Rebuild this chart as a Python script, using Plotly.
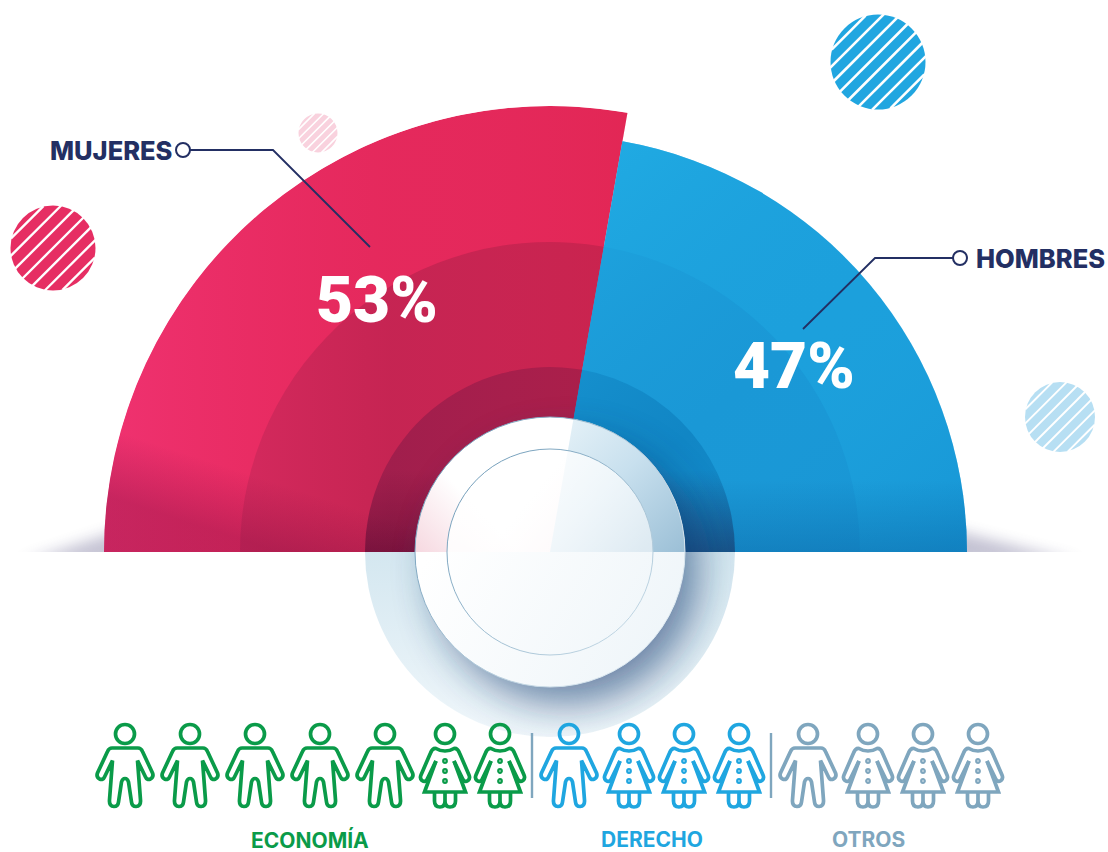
import base64, math
import plotly.graph_objects as go

W, H = 1108, 852
CX, CY = 550, 552

# ---- data ----
sexos = ["MUJERES", "HOMBRES"]
porcentajes = [53, 47]
barrido_grados = [100, 80]          # sweep as drawn in the half circle
radio_exterior = [446, 417]
radio_medio = [310, 310]
radio_interior = [185, 185]
carreras = ["ECONOMÍA", "DERECHO", "OTROS"]
hombres_por_carrera = [5, 1, 1]
mujeres_por_carrera = [2, 3, 3]

# ---- styles ----
ROJO = ["#E3285A", "#C0234F", "#961C48"]
AZUL = ["#1CA0DC", "#1A98D6", "#1186C5"]
COL_CARRERA = ["#0A9B49", "#1FA6E0", "#7FA6BE"]
NAVY = "#232F63"
FONT = "Inter"
SW = 3.7

theta_limite = barrido_grados[1]
theta_centros = [theta_limite + barrido_grados[0] / 2, theta_limite / 2]

fig = go.Figure()
for radios, k in ((radio_exterior, 0), (radio_medio, 1), (radio_interior, 2)):
    for i, nombre in enumerate(sexos):
        fig.add_trace(go.Barpolar(
            r=[radios[i]], theta=[theta_centros[i]], width=[barrido_grados[i]],
            name=nombre, marker=dict(color=(ROJO if i == 0 else AZUL)[k], line=dict(width=0)),
            hoverinfo="skip", showlegend=False, subplot="polar"))

# empty scatter so the pixel-based cartesian axes exist for shapes and text
fig.add_trace(go.Scatter(x=[], y=[], xaxis="x", yaxis="y", showlegend=False))


def pt(r, a):
    t = math.radians(a)
    return CX + r * math.cos(t), CY - r * math.sin(t)


def wedge(r, a0, a1):
    x0, y0 = pt(r, a0)
    x1, y1 = pt(r, a1)
    return f"M{CX} {CY}L{x0:.2f} {y0:.2f}A{r} {r} 0 0 0 {x1:.2f} {y1:.2f}Z"


R0, B0 = radio_exterior
RM, RI = radio_medio[0], radio_interior[0]
RD, RC = 135, 103
sx, sy = pt(RD, theta_limite)

svg_below = f'''<svg xmlns="http://www.w3.org/2000/svg" width="{W}" height="{H}" viewBox="0 0 {W} {H}">
<defs><filter id="b" x="-50%" y="-100%" width="200%" height="300%"><feGaussianBlur stdDeviation="10 7"/></filter>
<clipPath id="c"><rect x="0" y="0" width="{W}" height="{CY}"/></clipPath></defs>
<g clip-path="url(#c)"><g filter="url(#b)" fill="#4A4478" opacity=".32">
<path d="M{CX-R0+30} 526L{CX-R0+30} 562L24 562Z"/>
<path d="M{CX+B0-30} 526L{CX+B0-30} 562L1078 562Z"/></g></g>
</svg>'''

svg_above = f'''<svg xmlns="http://www.w3.org/2000/svg" width="{W}" height="{H}" viewBox="0 0 {W} {H}">
<defs>
<linearGradient id="rg" gradientUnits="userSpaceOnUse" x1="104" y1="0" x2="627" y2="0">
 <stop offset="0" stop-color="#F7387E" stop-opacity=".62"/><stop offset=".55" stop-color="#F02F6C" stop-opacity=".12"/><stop offset="1" stop-color="#E0244A" stop-opacity=".3"/></linearGradient>
<linearGradient id="bg" gradientUnits="userSpaceOnUse" x1="620" y1="150" x2="960" y2="540">
 <stop offset="0" stop-color="#22B0E6" stop-opacity=".6"/><stop offset=".5" stop-color="#1EA0DC" stop-opacity="0"/><stop offset="1" stop-color="#1088CC" stop-opacity=".4"/></linearGradient>
<linearGradient id="horR" gradientUnits="userSpaceOnUse" x1="300" y1="490" x2="280" y2="{CY}">
 <stop offset="0" stop-color="#6A0838" stop-opacity="0"/><stop offset="1" stop-color="#6A0838" stop-opacity=".3"/></linearGradient>
<linearGradient id="horB" gradientUnits="userSpaceOnUse" x1="0" y1="480" x2="0" y2="{CY}">
 <stop offset="0" stop-color="#003C7A" stop-opacity="0"/><stop offset="1" stop-color="#003C7A" stop-opacity=".24"/></linearGradient>
<linearGradient id="ind" gradientUnits="userSpaceOnUse" x1="0" y1="470" x2="0" y2="{CY}">
 <stop offset="0" stop-color="#300020" stop-opacity="0"/><stop offset="1" stop-color="#300020" stop-opacity=".3"/></linearGradient>
<linearGradient id="pale" gradientUnits="userSpaceOnUse" x1="0" y1="{CY}" x2="0" y2="{CY+RI}">
 <stop offset="0" stop-color="#D4E7F0"/><stop offset="1" stop-color="#F0F7FB"/></linearGradient>
<linearGradient id="dr" gradientUnits="userSpaceOnUse" x1="440" y1="430" x2="600" y2="560">
 <stop offset="0" stop-color="#FFFFFF"/><stop offset=".55" stop-color="#FFFFFF"/><stop offset="1" stop-color="#F5DDE4"/></linearGradient>
<linearGradient id="drc" gradientUnits="userSpaceOnUse" x1="415" y1="552" x2="470" y2="500">
 <stop offset="0" stop-color="#F6D8E0"/><stop offset="1" stop-color="#F6D8E0" stop-opacity="0"/></linearGradient>
<linearGradient id="db" gradientUnits="userSpaceOnUse" x1="560" y1="420" x2="685" y2="552">
 <stop offset="0" stop-color="#E6F2F8"/><stop offset=".45" stop-color="#C8E0EE"/><stop offset="1" stop-color="#9BBFD6"/></linearGradient>
<linearGradient id="dlo" gradientUnits="userSpaceOnUse" x1="430" y1="{CY}" x2="660" y2="{CY+135}">
 <stop offset="0" stop-color="#FFFFFF"/><stop offset="1" stop-color="#EEF5F9"/></linearGradient>
<linearGradient id="ci" gradientUnits="userSpaceOnUse" x1="470" y1="470" x2="640" y2="552">
 <stop offset="0" stop-color="#FFFFFF" stop-opacity=".9"/><stop offset="1" stop-color="#FFFFFF" stop-opacity=".62"/></linearGradient>
<linearGradient id="ce" gradientUnits="userSpaceOnUse" x1="460" y1="470" x2="640" y2="640">
 <stop offset="0" stop-color="#6F9BB8"/><stop offset="1" stop-color="#C6DAE6"/></linearGradient>
<linearGradient id="de" gradientUnits="userSpaceOnUse" x1="430" y1="470" x2="660" y2="640">
 <stop offset="0" stop-color="#6F9BB8"/><stop offset="1" stop-color="#E4EEF4"/></linearGradient>
<filter id="sh" x="-60%" y="-60%" width="220%" height="220%"><feGaussianBlur stdDeviation="20"/></filter>
<clipPath id="cr"><path d="{wedge(R0, theta_limite, 180)}"/></clipPath>
<clipPath id="cb"><path d="{wedge(B0, 0, theta_limite)}"/></clipPath>
<clipPath id="inn"><path d="{wedge(RI, 0, 180)}"/></clipPath>
<clipPath id="ring"><circle cx="{CX}" cy="{CY}" r="{RI}"/></clipPath>
<clipPath id="top"><rect x="0" y="0" width="{W}" height="{CY}"/></clipPath>
<clipPath id="low"><rect x="0" y="{CY}" width="{W}" height="{H-CY}"/></clipPath>
<clipPath id="disc"><circle cx="{CX}" cy="{CY}" r="{RD}"/></clipPath>
</defs>
<rect x="0" y="0" width="{W}" height="{CY}" fill="url(#rg)" clip-path="url(#cr)"/>
<rect x="0" y="0" width="{W}" height="{CY}" fill="url(#bg)" clip-path="url(#cb)"/>
<rect x="0" y="400" width="{W}" height="{CY-400}" fill="url(#horR)" clip-path="url(#cr)"/>
<rect x="0" y="400" width="{W}" height="{CY-400}" fill="url(#horB)" clip-path="url(#cb)"/>
<rect x="300" y="400" width="500" height="{CY-400}" fill="url(#ind)" clip-path="url(#inn)"/>
<g clip-path="url(#low)"><circle cx="{CX}" cy="{CY}" r="{RI}" fill="url(#pale)"/></g>
<g clip-path="url(#ring)"><circle cx="{CX+16}" cy="{CY+20}" r="{RD-3}" fill="#123A70" opacity=".6" filter="url(#sh)"/></g>
<g clip-path="url(#disc)">
 <rect x="400" y="400" width="300" height="{CY-400}" fill="url(#dr)"/>
 <rect x="400" y="400" width="300" height="{CY-400}" fill="url(#drc)"/>
 <path d="M{CX} {CY}L{sx+60*(sx-CX)/RD:.2f} {sy+60*(sy-CY)/RD:.2f}L720 380L720 {CY}Z" fill="url(#db)"/>
 <rect x="400" y="{CY}" width="300" height="150" fill="url(#dlo)"/>
 <g clip-path="url(#top)"><circle cx="{CX}" cy="{CY}" r="{RC}" fill="url(#ci)"/></g>
</g>
<circle cx="{CX}" cy="{CY}" r="{RD}" fill="none" stroke="url(#de)" stroke-width="1"/>
<circle cx="{CX}" cy="{CY}" r="{RC}" fill="none" stroke="url(#ce)" stroke-width="1"/>
</svg>'''


def uri(s):
    return "data:image/svg+xml;base64," + base64.b64encode(s.encode()).decode()


shapes = []


def striped(cx, cy, r, color, n):
    shapes.append(dict(type="circle", x0=cx - r, x1=cx + r, y0=cy - r, y1=cy + r,
                       fillcolor=color, line=dict(width=0), layer="below"))
    step = 2 * r / n
    d = -r + step / 2
    c = math.sqrt(0.5)
    while d < r:
        h = math.sqrt(max(r * r - d * d, 0)) + 1
        mx, my = cx + d * c, cy + d * c
        shapes.append(dict(type="line", x0=mx - h * c, y0=my + h * c, x1=mx + h * c, y1=my - h * c,
                           line=dict(color="white", width=max(1.6, r / 18)), layer="below"))
        d += step


striped(53, 248, 42.5, "#E62E63", 7)
striped(878, 62, 47.5, "#21A6E0", 8)
striped(318, 133, 19.5, "#F9D2DE", 6)
striped(1060, 417, 35, "#B7DFF3", 7)

# leader lines
shapes.append(dict(type="path", path="M190 150L273 150L370 247", line=dict(color=NAVY, width=1.8)))
shapes.append(dict(type="path", path="M953 258L875 258L803 329", line=dict(color=NAVY, width=1.8)))
for x, y in ((183, 150), (960, 258)):
    shapes.append(dict(type="circle", x0=x - 7, x1=x + 7, y0=y - 7, y1=y + 7,
                       fillcolor="white", line=dict(color=NAVY, width=2)))


def fmt(segs, x, y):
    out = []
    for cmd, *vals in segs:
        p = [f"{vals[i] + x:.2f} {vals[i + 1] + y:.2f}" for i in range(0, len(vals), 2)]
        out.append(cmd + " ".join(p))
    return "".join(out)


MAN_L = [("M", 0, 14), ("L", -13, 14), ("Q", -16, 14, -17.5, 17.5), ("L", -27.5, 39),
         ("Q", -29, 43, -25.5, 45), ("Q", -22, 46.5, -20.5, 43), ("L", -12.5, 26.5),
         ("L", -15.5, 66), ("Q", -16, 72, -11, 72.5), ("Q", -7, 72.5, -6.5, 68),
         ("L", -3.5, 48), ("Q", -2.5, 44.5, 0, 44.5)]


def mirror(segs):
    """mirror of a left half outline, traced back from the centre"""
    pts = [(cmd, v) for cmd, *v in segs]
    out = []
    ends = [p[1][-2:] for p in pts]
    for i in range(len(pts) - 1, 0, -1):
        cmd, v = pts[i]
        e = ends[i - 1]
        if cmd == "Q":
            out.append(("Q", -v[0], v[1], -e[0], e[1]))
        else:
            out.append(("L", -e[0], e[1]))
    return out


def man(x, color, y=734):
    p = fmt(MAN_L + mirror(MAN_L), x, y) + "Z"
    shapes.append(dict(type="path", path=p, line=dict(color=color, width=SW)))
    head(x, y, color)


def head(x, y, color):
    shapes.append(dict(type="circle", x0=x - 9.5, x1=x + 9.5, y0=y - 9.5, y1=y + 9.5,
                       fillcolor="rgba(255,255,255,0)", line=dict(color=color, width=SW)))


WOMAN_ARM = [("M", -9, 27), ("L", -18, 45.5), ("Q", -20, 48.5, -23, 46.5), ("Q", -25.5, 44.5, -24, 41),
             ("L", -14.5, 19), ("Q", -12.5, 14, -9, 14.5), ("Q", -5, 17, 0, 17)]
WOMAN_SKIRT = [("M", -9, 27), ("L", -20.5, 58), ("L", 20.5, 58), ("L", 9, 27)]
WOMAN_LEGS = [("M", -10.5, 58), ("L", -10.5, 67), ("Q", -10.5, 73, -5, 73), ("Q", 0, 73, 0, 67),
              ("L", 0, 58), ("L", 0, 67), ("Q", 0, 73, 5, 73), ("Q", 10.5, 73, 10.5, 67), ("L", 10.5, 58)]


def woman(x, color, y=734):
    arm = fmt(WOMAN_ARM + mirror(WOMAN_ARM), x, y)
    shapes.append(dict(type="path", path=arm, line=dict(color=color, width=SW)))
    shapes.append(dict(type="path", path=fmt(WOMAN_SKIRT, x, y), line=dict(color=color, width=SW)))
    shapes.append(dict(type="path", path=fmt(WOMAN_LEGS, x, y), line=dict(color=color, width=SW)))
    head(x, y, color)
    for dy in (27, 37, 47):
        shapes.append(dict(type="circle", x0=x - 1.8, x1=x + 1.8, y0=y + dy - 1.8, y1=y + dy + 1.8,
                           fillcolor="white", line=dict(color=color, width=2.2)))


annotations = []


def label(text, x, y, size, color, anchor="center", weight=700, family=FONT):
    annotations.append(dict(text=text, x=x, y=y, xref="x", yref="y", showarrow=False,
                            xanchor=anchor, yanchor="middle", borderpad=0,
                            font=dict(family=family, size=size, color=color, weight=weight)))


cursor = 125 - 32.5
for idx, nombre in enumerate(carreras):
    col = COL_CARRERA[idx]
    for _ in range(hombres_por_carrera[idx]):
        man(cursor + 32.5, col)
        cursor += 65
    for _ in range(mujeres_por_carrera[idx]):
        woman(cursor + 27.5, col)
        cursor += 55
    if idx < len(carreras) - 1:
        div = cursor + 4.5
        shapes.append(dict(type="line", x0=div, x1=div, y0=733, y1=798,
                           line=dict(color="#7FA6BE", width=2.4)))
        cursor += 9

label(sexos[0], 172.5, 150.5, 25.5, NAVY, "right", 800)
label(sexos[1], 975, 258, 25.5, NAVY, "left", 800)
label(f"{porcentajes[0]}%", 377, 300, 64, "white", weight=900, family="Roboto")
label(f"{porcentajes[1]}%", 794, 366, 64, "white", weight=900, family="Roboto")
for nombre, x, col in zip(carreras, (310, 652, 868), COL_CARRERA):
    label(nombre, x, 839.5, 21, col)

fig.update_layout(
    width=W, height=H, margin=dict(l=0, r=0, t=0, b=0), autosize=False,
    paper_bgcolor="white", plot_bgcolor="rgba(0,0,0,0)", showlegend=False,
    polar=dict(
        domain=dict(x=[(CX - 446) / W, (CX + 446) / W], y=[(H - CY) / H, (H - CY + 446) / H]),
        sector=[0, 180], bgcolor="rgba(0,0,0,0)", barmode="overlay",
        radialaxis=dict(visible=False, range=[0, 446]),
        angularaxis=dict(visible=False, direction="counterclockwise", rotation=0),
    ),
    xaxis=dict(range=[0, W], visible=False, domain=[0, 1], fixedrange=True),
    yaxis=dict(range=[H, 0], visible=False, domain=[0, 1], fixedrange=True),
    images=[
        dict(source=uri(svg_below), xref="paper", yref="paper", x=0, y=1, sizex=1, sizey=1,
             xanchor="left", yanchor="top", sizing="stretch", layer="below"),
        dict(source=uri(svg_above), xref="paper", yref="paper", x=0, y=1, sizex=1, sizey=1,
             xanchor="left", yanchor="top", sizing="stretch", layer="above"),
    ],
    shapes=shapes, annotations=annotations,
)

fig.write_html("out.html", config={"displayModeBar": False},
               post_script="document.body.style.margin='0';document.body.style.overflow='hidden';")
